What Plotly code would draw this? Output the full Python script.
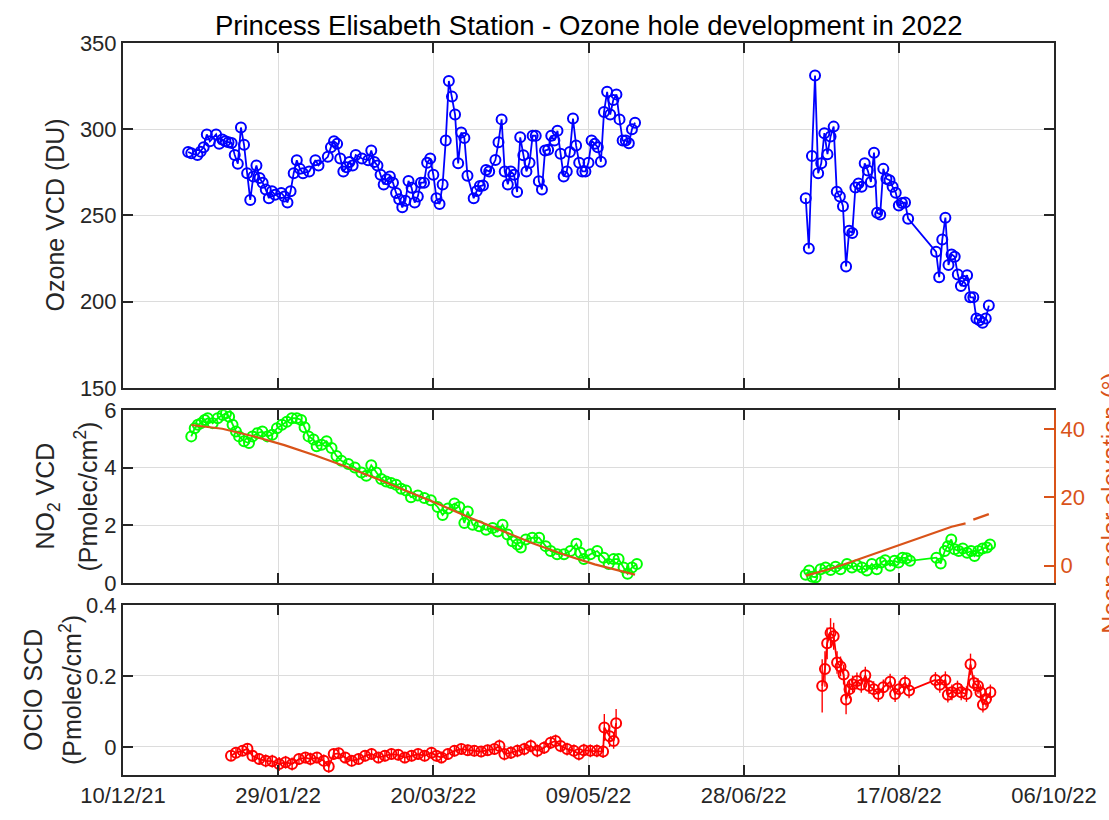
import pandas as pd
import plotly.graph_objects as go

# ---------------------------------------------------------------------------
# Data (x values are day offsets from 1 Jan 2022)
# ---------------------------------------------------------------------------
T0 = pd.Timestamp("2022-01-01")

# Total ozone column (DU) - summer/autumn campaign
oz_days_a = [-1, 0, 2, 3, 4, 5, 6, 8, 9, 10, 11, 12, 13, 14, 15, 16, 17, 18, 19, 20,
             21, 22, 23, 24, 25, 26, 27, 29, 30, 31, 32, 33, 34, 35, 36, 38, 40, 41, 44, 45,
             46, 47, 48, 49, 50, 51, 52, 53, 55, 57, 58, 59, 60, 61, 62, 63, 64, 65, 66, 67,
             68, 69, 70, 71, 72, 73, 74, 75, 76, 77, 78, 79, 80, 81, 82, 83, 84, 85, 86, 87,
             88, 89, 91, 92, 93, 94, 95, 96, 98, 99, 100, 101, 102, 103, 104, 105, 106, 107, 108, 109,
             110, 111, 112, 113, 114, 115, 116, 117, 118, 119, 120, 121, 122, 123, 124, 125, 126, 127, 128, 129,
             130, 131, 132, 133, 134, 135, 136, 137, 138, 139, 140, 141, 142, 143]
oz_vals_a = [286.8, 286, 285, 287, 289.6, 297, 293, 297, 291.5, 294, 293, 292.5, 292, 285, 280, 301, 291, 274.5, 259, 272.6,
             279, 271.7, 269, 265, 260, 264, 262, 263, 261, 257.5, 264, 274.5, 282, 277, 274.5, 275.5, 282, 279, 284, 289.6,
             293, 291.5, 283, 275.5, 278, 281, 279, 285, 283, 282, 287.7, 281, 279, 273.6, 268, 271, 272.6, 269, 263, 259.4,
             254.7, 258.5, 270, 266, 257.5, 261, 269, 269, 280.6, 283, 273.6, 260, 256.6, 268, 293.4, 328, 318.9, 308.5, 280.2, 298.1,
             294.9, 273, 260, 264.2, 267, 267.4, 276.4, 275.5, 282.1, 292.5, 305.7, 275.5, 268, 275.5, 273.6, 263.6, 295.3, 284.9, 275.5, 280.6,
             296.2, 296.2, 269.8, 265.1, 287.7, 288.1, 296.2, 293.4, 299.1, 285.8, 272.6, 275.5, 286.8, 306.2, 290.6, 280.6, 275.5, 275.5, 280.6, 293.4,
             291.5, 289.6, 281.1, 310, 321.7, 308.5, 317, 320.2, 305.7, 293.4, 293.4, 291.9, 300, 303.8]

# Total ozone column (DU) - late winter/spring campaign
oz_days_b = [198, 199, 200, 201, 202, 203, 204, 205, 206, 207, 208, 209, 210, 211, 212, 213, 214, 215, 216, 217,
             218, 219, 220, 221, 222, 223, 224, 225, 226, 227, 228, 229, 230, 231, 240, 241, 242, 243, 244, 245,
             246, 247, 248, 249, 250, 251, 252, 253, 254, 255, 256, 257]
oz_vals_b = [260, 230.8, 284.5, 331.1, 274.5, 280.2, 297.7, 285.5, 295.8, 301.5, 263.8, 261, 255.3, 220.4, 241.1, 239.8, 266.2, 268.5, 266.6, 280.2,
             276, 269.4, 286.4, 251.5, 250.6, 277, 271.3, 270.4, 266.6, 263.2, 255.7, 257.2, 257.5, 248.1, 228.9, 214.2, 236, 248.7, 221.3, 227.4,
             226, 215.7, 209.1, 211.9, 215.3, 202.5, 202.5, 190.2, 189.2, 187.7, 190.2, 197.7]

# NO2 vertical column (Pmolec/cm2)
no2_days_a = [0.0, 1.1, 2.1, 3.2, 4.3, 5.3, 6.9, 8.5, 10.1, 11.2, 12.2, 13.3, 14.4, 15.4, 17.0, 18.6, 19.7, 21.3, 22.9, 24.5,
              26.1, 27.6, 29.2, 30.8, 32.4, 34.0, 35.4, 36.5, 37.8, 39.4, 40.4, 42.0, 43.6, 45.2, 46.8, 48.4, 50.6, 52.7, 54.8, 56.4,
              58.0, 59.6, 61.2, 62.8, 64.4, 66.0, 67.6, 69.2, 70.8, 73.0, 75.1, 77.2, 79.4, 81.0, 82.7, 84.8, 86.4, 88.0, 89.1, 90.7,
              92.8, 95.0, 97.1, 98.7, 100.3, 101.9, 103.5, 105.1, 106.2, 107.8, 109.9, 112.1, 114.2, 115.8, 117.9, 120.1, 122.2, 124.1, 125.4, 126.5,
              128.6, 130.8, 132.9, 134.5, 136.1, 137.7, 139.3, 140.6, 142.0, 143.6]
no2_vals_a = [5.09, 5.37, 5.49, 5.55, 5.66, 5.72, 5.55, 5.72, 5.83, 5.89, 5.77, 5.49, 5.26, 5.09, 4.92, 4.86, 5.09, 5.20, 5.26, 5.09,
              5.15, 5.37, 5.49, 5.60, 5.72, 5.72, 5.66, 5.41, 5.09, 4.98, 4.75, 4.80, 4.92, 4.69, 4.41, 4.24, 4.13, 4.01, 3.84, 3.72,
              4.09, 3.84, 3.61, 3.52, 3.47, 3.41, 3.27, 3.21, 2.98, 3.04, 2.95, 2.87, 2.64, 2.36, 2.59, 2.76, 2.64, 2.08, 2.48, 2.02,
              1.97, 1.85, 1.91, 1.79, 2.02, 1.68, 1.45, 1.34, 1.23, 1.51, 1.57, 1.57, 1.28, 1.11, 1.00, 1.00, 1.11, 1.36, 1.05, 0.83,
              1.00, 1.11, 0.88, 0.66, 0.83, 0.83, 0.54, 0.32, 0.54, 0.66]
no2_days_b = [198.0, 199.1, 200.1, 201.2, 202.8, 204.4, 206.0, 207.6, 209.2, 211.3, 212.9, 214.5, 216.1, 217.7, 219.3, 220.9, 222.3, 223.6, 225.2, 226.6,
              227.9, 229.2, 230.5, 231.6, 240.1, 241.5, 242.8, 243.8, 244.9, 246.0, 247.3, 248.6, 250.0, 251.3, 252.4, 253.6, 255.0, 256.4, 257.4]
no2_vals_b = [0.29, 0.43, 0.22, 0.20, 0.48, 0.54, 0.45, 0.56, 0.48, 0.66, 0.54, 0.62, 0.54, 0.43, 0.66, 0.48, 0.71, 0.79, 0.60, 0.77,
              0.71, 0.88, 0.86, 0.77, 0.88, 0.68, 1.11, 1.28, 1.51, 1.17, 1.11, 1.20, 1.05, 1.11, 0.94, 1.11, 1.20, 1.23, 1.34]

# Noon solar elevation (deg)
sza_days_a = [0, 10, 20, 30, 40, 50, 60, 70, 80, 90, 100, 110, 120, 130, 143]
sza_vals_a = [41.2, 40.1, 37.9, 35.3, 32.3, 29.0, 25.4, 21.7, 17.9, 14.0, 10.2, 6.6, 3.3, 0.4, -2.6]
sza_days_b = [198, 205, 210, 215, 220, 225, 230, 235, 240, 245, 249.5]
sza_vals_b = [-2.9, -1.2, 0.3, 1.9, 3.4, 5.0, 6.7, 8.4, 10.0, 11.4, 12.4]
sza_days_c = [252, 257]
sza_vals_c = [13.5, 15.1]

# OClO slant column (Pmolec/cm2) with uncertainty
oclo_days_a = [12.8, 14.4, 16.5, 18.1, 19.7, 21.9, 24.0, 26.1, 28.3, 30.4, 32.5, 34.7, 36.8, 38.4, 40.5, 42.7, 44.3, 45.9, 47.5, 49.6,
               51.7, 53.9, 56.0, 58.1, 60.3, 62.4, 64.5, 66.7, 68.8, 71.0, 73.1, 75.2, 77.4, 79.0, 80.6, 82.7, 84.8, 87.0, 89.1, 91.2,
               93.4, 95.5, 97.7, 99.3, 100.9, 103.0, 105.1, 107.3, 109.4, 111.5, 113.7, 115.8, 117.4, 119.0, 121.1, 123.3, 124.9, 126.5, 128.6, 130.7,
               132.7, 133.1, 134.8, 136.1, 136.9]
oclo_vals_a = [-0.025, -0.016, -0.011, -0.005, -0.025, -0.034, -0.039, -0.040, -0.048, -0.043, -0.048, -0.034, -0.030, -0.034, -0.030, -0.039, -0.055, -0.020, -0.018, -0.030,
               -0.039, -0.034, -0.025, -0.020, -0.030, -0.025, -0.020, -0.022, -0.030, -0.025, -0.020, -0.025, -0.016, -0.025, -0.030, -0.020, -0.011, -0.006, -0.009, -0.011,
               -0.013, -0.009, -0.006, 0.003, -0.020, -0.016, -0.011, -0.006, 0.003, -0.011, -0.002, 0.012, 0.017, 0.003, -0.006, -0.011, -0.020, -0.009, -0.011, -0.011,
               -0.013, 0.055, 0.030, 0.017, 0.067]
oclo_err_a = [0.012, 0.012, 0.014, 0.016, 0.016, 0.016, 0.018, 0.018, 0.020, 0.018, 0.018, 0.016, 0.016, 0.018, 0.016, 0.018, 0.018, 0.016, 0.016, 0.016,
              0.016, 0.016, 0.016, 0.016, 0.016, 0.016, 0.016, 0.016, 0.016, 0.016, 0.016, 0.016, 0.016, 0.016, 0.016, 0.016, 0.016, 0.016, 0.016, 0.016,
              0.016, 0.016, 0.016, 0.018, 0.018, 0.018, 0.018, 0.018, 0.018, 0.018, 0.018, 0.018, 0.018, 0.018, 0.018, 0.018, 0.018, 0.018, 0.018, 0.018,
              0.018, 0.038, 0.030, 0.022, 0.040]
oclo_days_b = [203.3, 204.2, 204.9, 206.0, 207.0, 208.1, 209.2, 210.2, 211.0, 212.1, 213.1, 214.5, 215.9, 217.2, 218.4, 219.9, 221.4, 223.0, 225.2, 226.8,
               228.1, 230.0, 231.3, 239.8, 241.2, 243.0, 243.8, 245.1, 246.9, 248.1, 249.8, 251.1, 252.2, 253.5, 254.3, 255.1, 256.1, 257.5]
oclo_vals_b = [0.172, 0.220, 0.292, 0.321, 0.312, 0.238, 0.227, 0.204, 0.134, 0.163, 0.177, 0.186, 0.175, 0.202, 0.172, 0.163, 0.149, 0.168, 0.184, 0.149,
               0.163, 0.181, 0.159, 0.189, 0.175, 0.189, 0.147, 0.154, 0.165, 0.154, 0.149, 0.233, 0.180, 0.172, 0.154, 0.119, 0.135, 0.154]
oclo_err_b = [0.075, 0.050, 0.045, 0.042, 0.038, 0.032, 0.028, 0.028, 0.042, 0.026, 0.024, 0.024, 0.022, 0.024, 0.022, 0.022, 0.022, 0.022, 0.022, 0.022,
              0.022, 0.022, 0.022, 0.022, 0.022, 0.024, 0.022, 0.022, 0.022, 0.022, 0.022, 0.030, 0.022, 0.022, 0.022, 0.022, 0.022, 0.022]

x_tick_dates = ["2021-12-10", "2022-01-29", "2022-03-20", "2022-05-09", "2022-06-28", "2022-08-17", "2022-10-06"]
x_tick_text = ["10/12/21", "29/01/22", "20/03/22", "09/05/22", "28/06/22", "17/08/22", "06/10/22"]

# ---------------------------------------------------------------------------
# Helpers
# ---------------------------------------------------------------------------
def to_dates(days):
    return [(T0 + pd.Timedelta(days=d)).strftime("%Y-%m-%d %H:%M") for d in days]


def joined(*segments):
    """Concatenate (days, values) segments with a None break between them."""
    xs, ys = [], []
    for i, (d, v) in enumerate(segments):
        if i:
            xs.append(None)
            ys.append(None)
        xs += to_dates(d)
        ys += list(v)
    return xs, ys


BLUE = "#0000FF"
GREEN = "#00FF00"
RED = "#FF0000"
ORANGE = "#D95319"
AX = "#262626"
GRID = "#DCDCDC"
FONT = "Liberation Sans, Arial, Helvetica, sans-serif"
TICK_SIZE = 22
LABEL_SIZE = 25
MSIZE = 10
MLW = 2

fig = go.Figure()

# Ozone
ox, oy = joined((oz_days_a, oz_vals_a), (oz_days_b, oz_vals_b))
fig.add_trace(go.Scatter(
    x=ox, y=oy, mode="lines+markers", xaxis="x", yaxis="y",
    line=dict(color=BLUE, width=1.8),
    marker=dict(symbol="circle-open", size=MSIZE, color=BLUE, line=dict(width=MLW, color=BLUE)),
    showlegend=False))

# NO2
nx, ny = joined((no2_days_a, no2_vals_a), (no2_days_b, no2_vals_b))
fig.add_trace(go.Scatter(
    x=nx, y=ny, mode="lines+markers", xaxis="x2", yaxis="y2",
    line=dict(color=GREEN, width=1.8),
    marker=dict(symbol="circle-open", size=MSIZE, color=GREEN, line=dict(width=MLW, color=GREEN)),
    showlegend=False))

# Noon solar elevation (right axis)
sx, sy = joined((sza_days_a, sza_vals_a), (sza_days_b, sza_vals_b), (sza_days_c, sza_vals_c))
fig.add_trace(go.Scatter(
    x=sx, y=sy, mode="lines", xaxis="x2", yaxis="y3",
    line=dict(color=ORANGE, width=2.2),
    showlegend=False))

# OClO with error bars
cx, cy = joined((oclo_days_a, oclo_vals_a), (oclo_days_b, oclo_vals_b))
cerr = list(oclo_err_a) + [0] + list(oclo_err_b)
fig.add_trace(go.Scatter(
    x=cx, y=cy, mode="lines+markers", xaxis="x3", yaxis="y4",
    line=dict(color=RED, width=1.8),
    marker=dict(symbol="circle-open", size=MSIZE, color=RED, line=dict(width=MLW, color=RED)),
    error_y=dict(type="data", array=cerr, visible=True, color=RED, thickness=1.4, width=0),
    showlegend=False))

# ---------------------------------------------------------------------------
# Axes
# ---------------------------------------------------------------------------
x_range = ["2021-12-10", "2022-10-06"]
x_common = dict(
    type="date", range=x_range, tickvals=x_tick_dates, ticktext=x_tick_text,
    ticks="inside", ticklen=10, tickwidth=2, tickcolor=AX,
    showline=True, linecolor=AX, linewidth=2, mirror="ticks",
    showgrid=True, gridcolor=GRID, gridwidth=1.2, zeroline=False,
    tickfont=dict(size=TICK_SIZE, color=AX, family=FONT),
)
y_common = dict(
    ticks="inside", ticklen=10, tickwidth=2, tickcolor=AX,
    showline=True, linecolor=AX, linewidth=2,
    showgrid=True, gridcolor=GRID, gridwidth=1.2, zeroline=False,
    tickfont=dict(size=TICK_SIZE, color=AX, family=FONT),
)

D_TOP = [0.5289, 1.0]
D_MID = [0.2623, 0.4984]
D_BOT = [0.0, 0.2322]

fig.update_layout(
    width=1109, height=820,
    margin=dict(l=123, r=49, t=43, b=32),
    paper_bgcolor="white", plot_bgcolor="white",
    font=dict(family=FONT, color=AX),
    xaxis=dict(x_common, anchor="y", domain=[0, 1], showticklabels=False),
    xaxis2=dict(x_common, anchor="y2", domain=[0, 1], showticklabels=False, matches="x"),
    xaxis3=dict(x_common, anchor="y4", domain=[0, 1], showticklabels=True, matches="x"),
    yaxis=dict(y_common, domain=D_TOP, range=[150, 350], tickvals=[150, 200, 250, 300, 350],
               mirror="ticks", anchor="x"),
    yaxis2=dict(y_common, domain=D_MID, range=[0, 6], tickvals=[0, 2, 4, 6],
                mirror=False, anchor="x2"),
    yaxis3=dict(overlaying="y2", side="right", anchor="x2", range=[-5.06, 45.55],
                tickvals=[0, 20, 40], ticks="inside", ticklen=10, tickwidth=2, tickcolor=ORANGE,
                showline=True, linecolor=ORANGE, linewidth=2, showgrid=False, zeroline=False,
                tickfont=dict(size=TICK_SIZE, color=ORANGE, family=FONT)),
    yaxis4=dict(y_common, domain=D_BOT, range=[-0.079, 0.4], tickvals=[0, 0.2, 0.4],
                ticktext=["0", "0.2", "0.4"], mirror="ticks", anchor="x3"),
)

# ---------------------------------------------------------------------------
# Title and axis labels
# ---------------------------------------------------------------------------
def ylabel(text, y, xshift, color=AX, xref_x=0):
    fig.add_annotation(
        text=text, xref="paper", yref="paper", x=xref_x, y=y,
        xanchor="center", yanchor="middle", xshift=xshift, textangle=-90,
        showarrow=False, font=dict(size=LABEL_SIZE, color=color, family=FONT))


fig.add_annotation(
    text="Princess Elisabeth Station - Ozone hole development in 2022",
    xref="paper", yref="paper", x=0.5, y=1.0, xanchor="center", yanchor="bottom",
    yshift=0, showarrow=False, font=dict(size=27.5, color="black", family=FONT))

ylabel("Ozone VCD (DU)", sum(D_TOP) / 2, -68)
ylabel("NO<sub>2</sub> VCD", sum(D_MID) / 2, -76)
ylabel("(Pmolec/cm<sup>2</sup>)", sum(D_MID) / 2, -37)
ylabel("OClO SCD", sum(D_BOT) / 2, -90)
ylabel("(Pmolec/cm<sup>2</sup>)", sum(D_BOT) / 2, -52)
ylabel("Noon solar elevation (°)", 0.372, 57, color=ORANGE, xref_x=1)

fig.write_html("out.html")
